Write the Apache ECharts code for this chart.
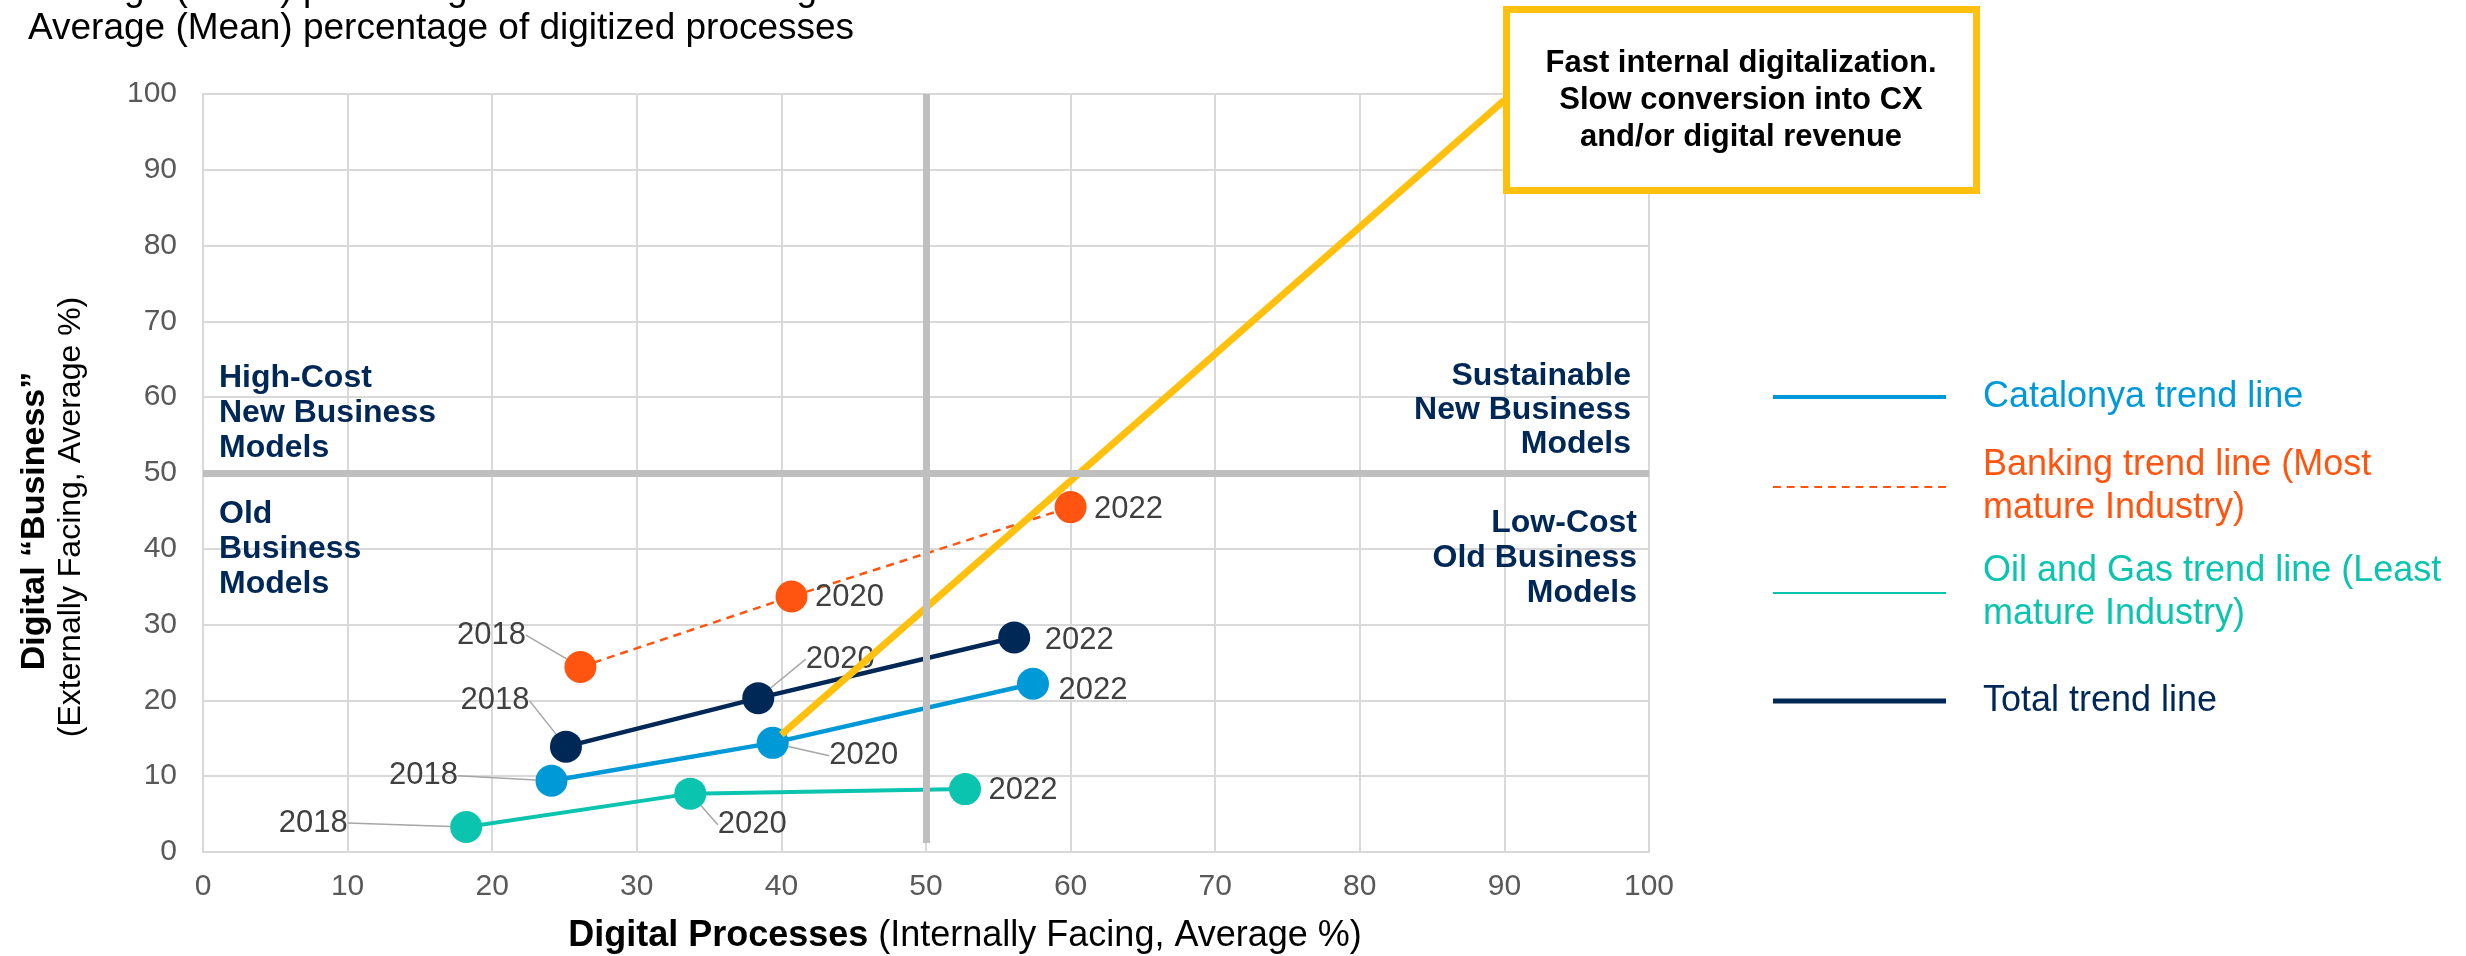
<!DOCTYPE html>
<html>
<head>
<meta charset="utf-8">
<script src="https://cdn.jsdelivr.net/npm/echarts@6/dist/echarts.min.js"></script>
<style>
  html, body { margin: 0; padding: 0; background: #ffffff; }
  #chart { width: 2466px; height: 956px; }
</style>
</head>
<body>
<div id="chart"></div>
<script>
// ---- data: [digital processes %, digital business %] per survey year ----
const years = ['2018', '2020', '2022'];
const catalonya = [[24.1, 9.4], [39.4, 14.4], [57.4, 22.2]];
const total     = [[25.1, 13.9], [38.4, 20.3], [56.1, 28.3]];
const banking   = [[26.1, 24.4], [40.7, 33.7], [60.0, 45.5]];
const oilGas    = [[18.2, 3.3], [33.7, 7.7], [52.7, 8.3]];

// callout arrow from Catalonya 2020 up to the note box
const calloutPath = [[40.0, 15.5], [90.0, 99.2]];

// quadrant split values and axis range
const quadrantX = 50;
const quadrantY = 50;
const axisMin = 0, axisMax = 100, axisStep = 10;

const seriesNames = {
  catalonya: 'Catalonya trend line',
  banking: 'Banking trend line (Most\nmature Industry)',
  oilGas: 'Oil and Gas trend line (Least\nmature Industry)',
  total: 'Total trend line'
};

const colors = {
  catalonya: '#0099D8',
  banking: '#FF5511',
  oilGas: '#0BC4AF',
  total: '#002856',
  callout: '#FFC10E',
  quadrant: '#BFBFBF',
  grid: '#D9D9D9',
  tick: '#595959',
  yearLabel: '#404040',
  leader: '#A6A6A6'
};

const FONT = '"Liberation Sans", Arial, Helvetica, sans-serif';

// year label placement: [dx, dy, show leader line]
const labelShift = {
  catalonya: [[-128, -5, true], [91, 13, true], [60, 7, false]],
  total:     [[-71, -46, true], [82, -39, true], [65, 3, false]],
  banking:   [[-89, -32, true], [58, 1, false], [58, 2, false]],
  oilGas:    [[-153, -4, true], [62, 31, true], [58, 1, false]]
};

function trendSeries(key, points, lineStyle, z) {
  const shifts = labelShift[key];
  return {
    type: 'line',
    name: seriesNames[key],
    z: z,
    data: points.map((p, i) => ({ value: p, labelLine: { show: shifts[i][2] } })),
    symbol: 'circle',
    symbolSize: 32,
    color: colors[key],
    itemStyle: { color: colors[key], borderWidth: 0 },
    lineStyle: Object.assign({ color: colors[key] }, lineStyle),
    label: {
      show: true,
      position: 'inside',
      formatter: p => years[p.dataIndex],
      fontFamily: FONT,
      fontSize: 31,
      color: colors.yearLabel
    },
    labelLine: {
      show: false,
      smooth: false,
      lineStyle: { color: colors.leader, width: 1.5 }
    },
    labelLayout: p => ({ dx: shifts[p.dataIndex][0], dy: shifts[p.dataIndex][1] }),
    emphasis: { disabled: true },
    silent: true,
    animation: false
  };
}

function legendFor(key, centerY, lines, icon, iconHeight) {
  const lh = 43;
  return {
    data: [{ name: seriesNames[key], icon: icon }],
    left: 1773,
    top: centerY - (lines * lh) / 2,
    orient: 'vertical',
    padding: 0,
    itemWidth: 173,
    itemHeight: iconHeight,
    itemStyle: { borderWidth: 0 },
    selectedMode: false,
    textStyle: {
      color: colors[key],
      fontFamily: FONT,
      fontSize: 36,
      lineHeight: lh,
      padding: [0, 0, 0, 32]
    }
  };
}

// dashed legend sample for the banking series
let dashIcon = 'path://';
for (let i = 0; i < 13; i++) {
  const x0 = i * 14;
  dashIcon += 'M' + x0 + ',0h8v2h-8z';
}

const chart = echarts.init(document.getElementById('chart'), null, { renderer: 'canvas' });

const axisCommon = {
  type: 'value',
  min: axisMin,
  max: axisMax,
  interval: axisStep,
  axisLine: { show: true, lineStyle: { color: colors.grid, width: 2 } },
  axisTick: { show: false },
  splitLine: { show: true, lineStyle: { color: colors.grid, width: 2 } },
  axisLabel: { fontFamily: FONT, fontSize: 30, color: colors.tick }
};

const option = {
  backgroundColor: '#ffffff',
  animation: false,
  grid: { left: 203, right: 817, top: 94, bottom: 104, containLabel: false },
  xAxis: Object.assign({}, axisCommon, {
    axisLabel: Object.assign({}, axisCommon.axisLabel, { margin: 20 })
  }),
  yAxis: Object.assign({}, axisCommon, {
    axisLabel: Object.assign({}, axisCommon.axisLabel, { margin: 26 })
  }),
  legend: [
    legendFor('catalonya', 397, 1, 'rect', 4),
    legendFor('banking', 487, 2, dashIcon, 2),
    legendFor('oilGas', 593, 2, 'rect', 2),
    legendFor('total', 701, 1, 'rect', 5)
  ],
  series: [
    {
      type: 'line',
      name: 'quadrants',
      z: 1,
      data: [],
      silent: true,
      markLine: {
        silent: true,
        symbol: 'none',
        label: { show: false },
        lineStyle: { color: colors.quadrant, width: 7, type: 'solid' },
        emphasis: { disabled: true },
        data: [
          [{ coord: [quadrantX, 1.2] }, { coord: [quadrantX, axisMax] }],
          [{ coord: [axisMin, quadrantY] }, { coord: [axisMax, quadrantY] }]
        ]
      }
    },
    trendSeries('banking', banking, { width: 2.5, type: [8, 6] }, 2),
    trendSeries('oilGas', oilGas, { width: 4 }, 2),
    trendSeries('catalonya', catalonya, { width: 4.5 }, 2),
    trendSeries('total', total, { width: 4.5 }, 2),
    {
      type: 'line',
      name: 'callout',
      z: 3,
      data: calloutPath,
      symbol: 'none',
      silent: true,
      lineStyle: { color: colors.callout, width: 7 },
      emphasis: { disabled: true }
    }
  ],
  graphic: [
    // heading (first line runs off the top edge)
    {
      type: 'text', x: 28, y: -10, z: 50, silent: true,
      style: {
        text: 'Average (Mean) percentage of revenue from digital channels',
        fontFamily: FONT, fontSize: 37, fill: '#000000', verticalAlign: 'middle'
      }
    },
    {
      type: 'text', x: 28, y: 29, z: 50, silent: true,
      style: {
        text: 'Average (Mean) percentage of digitized processes',
        fontFamily: FONT, fontSize: 37, fill: '#000000', verticalAlign: 'middle'
      }
    },
    // note box
    {
      type: 'rect', z: 100, silent: true,
      shape: { x: 1506.5, y: 9.5, width: 470, height: 181 },
      style: { fill: '#ffffff', stroke: colors.callout, lineWidth: 7 }
    },
    {
      type: 'text', x: 1741, y: 100, z: 101, silent: true,
      style: {
        text: 'Fast internal digitalization.\nSlow conversion into CX\nand/or digital revenue',
        fontFamily: FONT, fontSize: 31, fontWeight: 'bold', lineHeight: 37,
        fill: '#000000', align: 'center', verticalAlign: 'middle'
      }
    },
    // quadrant names
    {
      type: 'text', x: 219, y: 413, z: 50, silent: true,
      style: {
        text: 'High-Cost\nNew Business\nModels',
        fontFamily: FONT, fontSize: 32, fontWeight: 'bold', lineHeight: 35,
        fill: colors.total, align: 'left', verticalAlign: 'middle'
      }
    },
    {
      type: 'text', x: 219, y: 549, z: 50, silent: true,
      style: {
        text: 'Old\nBusiness\nModels',
        fontFamily: FONT, fontSize: 32, fontWeight: 'bold', lineHeight: 35,
        fill: colors.total, align: 'left', verticalAlign: 'middle'
      }
    },
    {
      type: 'text', x: 1631, y: 410, z: 50, silent: true,
      style: {
        text: 'Sustainable\nNew Business\nModels',
        fontFamily: FONT, fontSize: 32, fontWeight: 'bold', lineHeight: 34,
        fill: colors.total, align: 'right', verticalAlign: 'middle'
      }
    },
    {
      type: 'text', x: 1637, y: 558, z: 50, silent: true,
      style: {
        text: 'Low-Cost\nOld Business\nModels',
        fontFamily: FONT, fontSize: 32, fontWeight: 'bold', lineHeight: 35,
        fill: colors.total, align: 'right', verticalAlign: 'middle'
      }
    },
    // axis titles
    {
      type: 'text', x: 965, y: 936, z: 50, silent: true,
      style: {
        text: '{b|Digital Processes\u00A0}{r|(Internally Facing, Average %)}',
        rich: {
          b: { fontFamily: FONT, fontSize: 36, fontWeight: 'bold', fill: '#000000' },
          r: { fontFamily: FONT, fontSize: 36, fill: '#000000' }
        },
        align: 'center', verticalAlign: 'middle'
      }
    },
    {
      type: 'text', x: 35, y: 521, rotation: Math.PI / 2, z: 50, silent: true,
      style: {
        text: 'Digital \u201CBusiness\u201D',
        fontFamily: FONT, fontSize: 34, fontWeight: 'bold', fill: '#000000',
        align: 'center', verticalAlign: 'middle'
      }
    },
    {
      type: 'text', x: 71, y: 517, rotation: Math.PI / 2, z: 50, silent: true,
      style: {
        text: '(Externally Facing, Average %)',
        fontFamily: FONT, fontSize: 32, fill: '#000000',
        align: 'center', verticalAlign: 'middle'
      }
    }
  ]
};

chart.setOption(option);
</script>
</body>
</html>
